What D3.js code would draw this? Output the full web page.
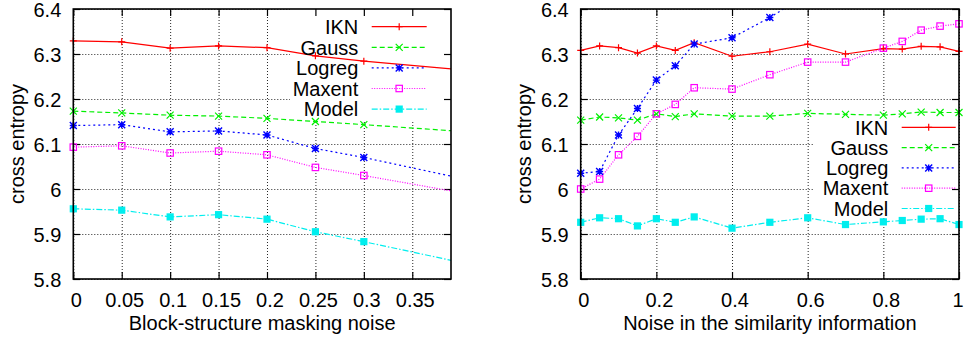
<!DOCTYPE html>
<html>
<head>
<meta charset="utf-8">
<script src="https://cdn.jsdelivr.net/npm/d3@7"></script>
<style>
  html, body { margin: 0; padding: 0; background: #fff; }
  svg { display: block; }
  text { font-family: "Liberation Sans", Arial, Helvetica, sans-serif; fill: #000; }
</style>
</head>
<body>
<svg id="chart" width="965" height="338"></svg>
<script>
// ---------- data ----------
const seriesNames = ["IKN", "Gauss", "Logreg", "Maxent", "Model"];

// Left panel: Block-structure masking noise
const xLeft = [0, 0.05, 0.1, 0.15, 0.2, 0.25, 0.3, 0.4];
const iknLeft    = [6.329, 6.327, 6.313, 6.318, 6.314, 6.296, 6.284, 6.265];
const gaussLeft  = [6.173, 6.169, 6.164, 6.162, 6.157, 6.150, 6.143, 6.128];
const logregLeft = [6.141, 6.143, 6.127, 6.129, 6.120, 6.090, 6.070, 6.024];
const maxentLeft = [6.093, 6.096, 6.080, 6.084, 6.076, 6.048, 6.030, 5.992];
const modelLeft  = [5.956, 5.953, 5.938, 5.943, 5.933, 5.905, 5.883, 5.837];
const xTicksLeft = [0, 0.05, 0.1, 0.15, 0.2, 0.25, 0.3, 0.35];
const xTickLabelsLeft = ["0", "0.05", "0.1", "0.15", "0.2", "0.25", "0.3", "0.35"];

// Right panel: Noise in the similarity information
const xRight = [0, 0.05, 0.1, 0.15, 0.2, 0.25, 0.3, 0.4, 0.5, 0.6, 0.7, 0.8, 0.85, 0.9, 0.95, 1];
const iknRight    = [6.308, 6.318, 6.314, 6.302, 6.318, 6.308, 6.325, 6.295, 6.305, 6.322, 6.300, 6.312, 6.311, 6.317, 6.316, 6.306];
const gaussRight  = [6.153, 6.160, 6.158, 6.153, 6.167, 6.161, 6.167, 6.162, 6.162, 6.168, 6.166, 6.164, 6.167, 6.171, 6.170, 6.170];
const logregRight = [6.035, 6.039, 6.120, 6.179, 6.242, 6.274, 6.322, 6.336, 6.381, 6.434];
const maxentRight = [6.000, 6.022, 6.076, 6.117, 6.167, 6.188, 6.225, 6.222, 6.254, 6.282, 6.282, 6.313, 6.328, 6.353, 6.362, 6.367];
const modelRight  = [5.926, 5.936, 5.934, 5.918, 5.934, 5.926, 5.938, 5.913, 5.926, 5.936, 5.921, 5.927, 5.930, 5.933, 5.934, 5.921];
const xTicksRight = [0, 0.2, 0.4, 0.6, 0.8, 1];
const xTickLabelsRight = ["0", "0.2", "0.4", "0.6", "0.8", "1"];

const yTicks = [5.8, 5.9, 6, 6.1, 6.2, 6.3, 6.4];
const yTickLabels = ["5.8", "5.9", "6", "6.1", "6.2", "6.3", "6.4"];
const yLabel = "cross entropy";

// ---------- styles ----------
const FS = 20;
const styles = {
  IKN:    { color: "#ff0000", dash: null,        marker: "plus" },
  Gauss:  { color: "#00f000", dash: "5,3",       marker: "cross" },
  Logreg: { color: "#0000ff", dash: "2,3",       marker: "star" },
  Maxent: { color: "#ff00ff", dash: "1,1.5",     marker: "openSquare" },
  Model:  { color: "#00eeee", dash: "6,2,1.5,2", marker: "filledSquare" }
};

const svg = d3.select("#chart");

function drawMarker(g, type, x, y, color) {
  const s = 3.5;
  if (type === "plus") {
    g.append("path").attr("d", `M${x - s},${y}H${x + s}M${x},${y - s}V${y + s}`)
      .attr("stroke", color).attr("stroke-width", 1.2).attr("fill", "none");
  } else if (type === "cross") {
    g.append("path").attr("d", `M${x - s},${y - s}L${x + s},${y + s}M${x - s},${y + s}L${x + s},${y - s}`)
      .attr("stroke", color).attr("stroke-width", 1.2).attr("fill", "none");
  } else if (type === "star") {
    g.append("path").attr("d", `M${x - s},${y}H${x + s}M${x},${y - s}V${y + s}M${x - s},${y - s}L${x + s},${y + s}M${x - s},${y + s}L${x + s},${y - s}`)
      .attr("stroke", color).attr("stroke-width", 1.4).attr("fill", "none");
  } else if (type === "openSquare") {
    g.append("rect").attr("x", x - 3.2).attr("y", y - 3.2).attr("width", 6.4).attr("height", 6.4)
      .attr("stroke", color).attr("stroke-width", 1.2).attr("fill", "none");
  } else if (type === "filledSquare") {
    g.append("rect").attr("x", x - 3.6).attr("y", y - 3.6).attr("width", 7.2).attr("height", 7.2)
      .attr("fill", color);
  }
}

function drawPanel(cfg) {
  const x = d3.scaleLinear().domain(cfg.xDomain).range([cfg.left, cfg.right]);
  const y = d3.scaleLinear().domain([5.8, 6.4]).range([cfg.bottom, cfg.top]);
  const W = cfg.right - cfg.left, H = cfg.bottom - cfg.top;
  const g = svg.append("g");
  const clipId = "clip" + cfg.id;
  svg.append("clipPath").attr("id", clipId).append("rect")
    .attr("x", cfg.left).attr("y", cfg.top).attr("width", W).attr("height", H);

  // grid
  const gridX = g.append("g").attr("transform", `translate(0,${cfg.bottom})`)
    .call(d3.axisBottom(x).tickValues(cfg.xTicks).tickSize(-H).tickFormat(""));
  const gridY = g.append("g").attr("transform", `translate(${cfg.left},0)`)
    .call(d3.axisLeft(y).tickValues(yTicks).tickSize(-W).tickFormat(""));
  [gridX, gridY].forEach(a => {
    a.select(".domain").remove();
    a.selectAll("line").attr("stroke", "#000").attr("stroke-width", 1).attr("stroke-dasharray", "1,2").attr("opacity", 0.85);
  });

  // opaque key box
  g.append("rect").attr("x", cfg.keyBox[0]).attr("y", cfg.keyBox[1])
    .attr("width", cfg.keyBox[2]).attr("height", cfg.keyBox[3]).attr("fill", "#fff");

  // ticks (inward, mirrored) and labels
  const axB = g.append("g").attr("transform", `translate(0,${cfg.bottom})`)
    .call(d3.axisBottom(x).tickValues(cfg.xTicks).tickSizeInner(-7).tickSizeOuter(0).tickPadding(26)
      .tickFormat((d, i) => cfg.xTickLabels[i]));
  const axT = g.append("g").attr("transform", `translate(0,${cfg.top})`)
    .call(d3.axisTop(x).tickValues(cfg.xTicks).tickSizeInner(-7).tickSizeOuter(0).tickFormat(""));
  const axL = g.append("g").attr("transform", `translate(${cfg.left},0)`)
    .call(d3.axisLeft(y).tickValues(yTicks).tickSizeInner(-7).tickSizeOuter(0).tickPadding(12)
      .tickFormat((d, i) => yTickLabels[i]));
  const axR = g.append("g").attr("transform", `translate(${cfg.right},0)`)
    .call(d3.axisRight(y).tickValues(yTicks).tickSizeInner(-7).tickSizeOuter(0).tickFormat(""));
  [axB, axT, axL, axR].forEach(a => {
    a.select(".domain").remove();
    a.selectAll("line").attr("stroke", "#000").attr("stroke-width", 1.2);
    a.selectAll("text").attr("font-size", FS).attr("fill", "#000")
      .style("font-family", '"Liberation Sans", Arial, Helvetica, sans-serif');
  });
  axB.selectAll("text").attr("dy", null)
    .attr("dx", d => (x(d) > cfg.right - 4 ? -1.5 : 2.5))
    .attr("y", 306.5 - cfg.bottom);
  axL.selectAll("text").attr("dy", "0.36em");

  // data
  const dataG = g.append("g").attr("clip-path", `url(#${clipId})`);
  const markG = g.append("g");
  cfg.series.forEach(s => {
    const st = styles[s.name];
    const pts = s.values.map((v, i) => [cfg.xs[i], v]);
    dataG.append("path")
      .attr("d", d3.line().x(d => x(d[0])).y(d => y(d[1]))(pts))
      .attr("fill", "none").attr("stroke", st.color).attr("stroke-width", 1.2)
      .attr("stroke-dasharray", st.dash);
    pts.forEach(p => {
      if (p[0] >= cfg.xDomain[0] && p[0] <= cfg.xDomain[1] && p[1] >= 5.8 && p[1] <= 6.4) {
        drawMarker(markG, st.marker, x(p[0]), y(p[1]), st.color);
      }
    });
  });

  // border
  g.append("rect").attr("x", cfg.left).attr("y", cfg.top).attr("width", W).attr("height", H)
    .attr("fill", "none").attr("stroke", "#000").attr("stroke-width", 1.6);

  // legend
  const lg = g.append("g");
  seriesNames.forEach((name, i) => {
    const st = styles[name];
    const yy = cfg.keyY0 + i * cfg.keyDy;
    lg.append("text").attr("x", cfg.keyTextX).attr("y", yy).attr("dy", "0.36em")
      .attr("text-anchor", "end").attr("font-size", FS).text(name);
    lg.append("line").attr("x1", cfg.keyLine[0]).attr("x2", cfg.keyLine[1]).attr("y1", yy).attr("y2", yy)
      .attr("stroke", st.color).attr("stroke-width", 1.2).attr("stroke-dasharray", st.dash);
    drawMarker(lg, st.marker, (cfg.keyLine[0] + cfg.keyLine[1]) / 2, yy, st.color);
  });

  // axis titles
  g.append("text").attr("transform", `translate(${cfg.yLabelX},144) rotate(-90)`)
    .attr("text-anchor", "middle").attr("dy", "0.36em").attr("font-size", FS).text(yLabel);
  g.append("text").attr("x", (cfg.left + cfg.right) / 2).attr("y", 330)
    .attr("text-anchor", "middle").attr("font-size", FS).text(cfg.xLabel);
}

drawPanel({
  id: "L", left: 73.3, right: 451, top: 9, bottom: 279,
  xDomain: [0, 0.39], xTicks: xTicksLeft, xTickLabels: xTickLabelsLeft, xs: xLeft,
  series: [
    { name: "IKN", values: iknLeft }, { name: "Gauss", values: gaussLeft },
    { name: "Logreg", values: logregLeft }, { name: "Maxent", values: maxentLeft },
    { name: "Model", values: modelLeft }
  ],
  keyBox: [290, 9, 161, 111], keyY0: 26.7, keyDy: 20.6, keyTextX: 358.3, keyLine: [371.7, 426.7],
  yLabelX: 17, xLabel: "Block-structure masking noise"
});

drawPanel({
  id: "R", left: 580.7, right: 959, top: 9, bottom: 279,
  xDomain: [0, 1], xTicks: xTicksRight, xTickLabels: xTickLabelsRight, xs: xRight,
  series: [
    { name: "IKN", values: iknRight }, { name: "Gauss", values: gaussRight },
    { name: "Logreg", values: logregRight }, { name: "Maxent", values: maxentRight },
    { name: "Model", values: modelRight }
  ],
  keyBox: [813, 114, 146, 104], keyY0: 127.3, keyDy: 20.3, keyTextX: 888.3, keyLine: [901.7, 955.7],
  yLabelX: 524, xLabel: "Noise in the similarity information"
});
</script>
</body>
</html>
